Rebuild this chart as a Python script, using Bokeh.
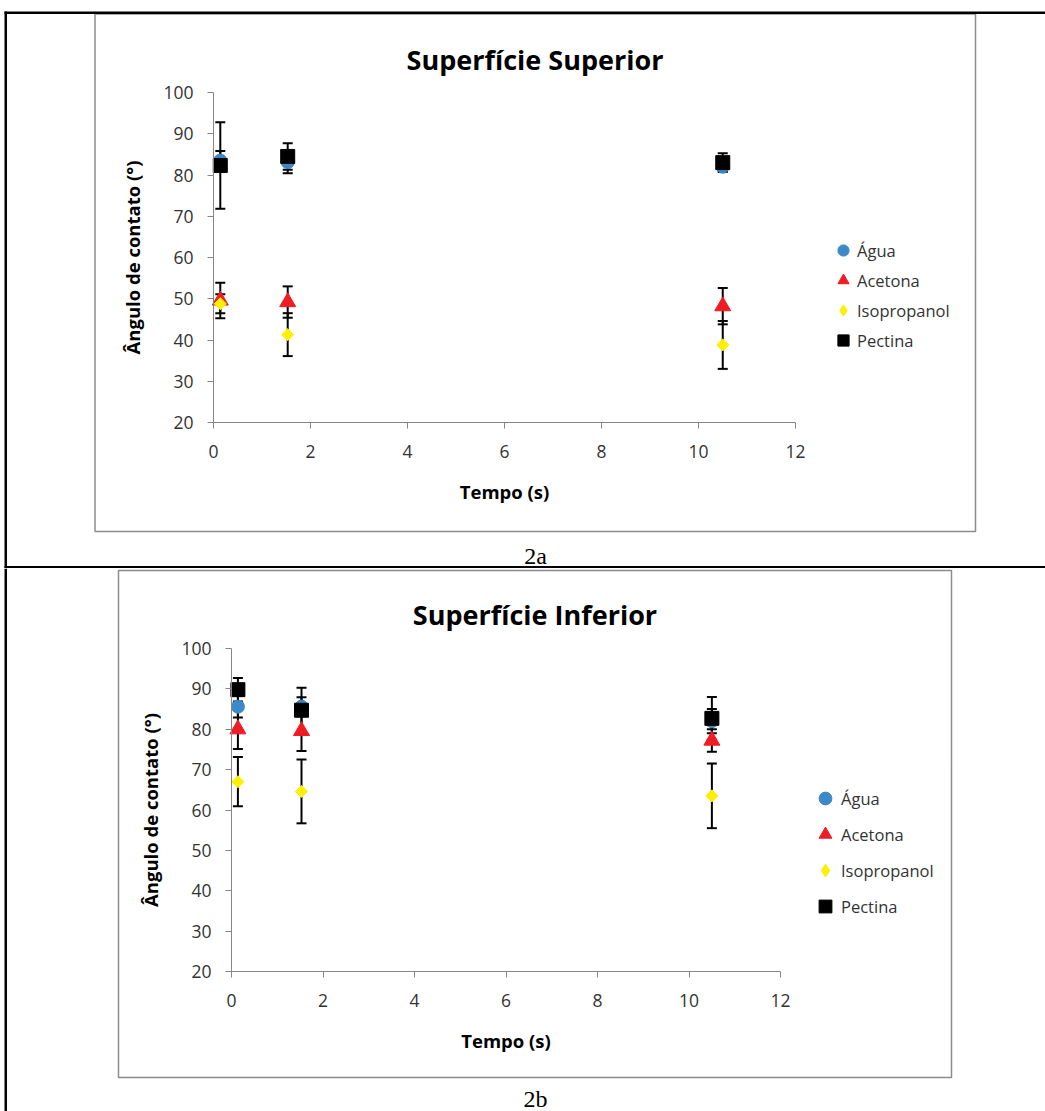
import math
from bokeh.plotting import figure
from bokeh.models import (Range1d, FixedTicker, Whisker, TeeHead, ColumnDataSource,
                          Legend, LegendItem, Label, BoxAnnotation, LinearAxis)
from bokeh.layouts import column
from bokeh.embed import file_html
from bokeh.resources import INLINE

# ---------------- data ----------------
tempo = [0.14, 1.53, 10.5]
series = ["Água", "Acetona", "Isopropanol", "Pectina"]
x_ticks = [0, 2, 4, 6, 8, 10, 12]
y_ticks = [20, 30, 40, 50, 60, 70, 80, 90, 100]

# Superfície Superior (2a)
sup_agua = [83.5, 83.1, 82.0]
sup_agua_err = [2.3, 2.7, 1.0]
sup_acetona = [49.6, 49.2, 48.2]
sup_acetona_err = [4.3, 3.8, 4.4]
sup_isoprop = [48.8, 41.3, 38.8]
sup_isoprop_err = [2.3, 5.2, 5.8]
sup_pectina = [82.3, 84.5, 83.0]
sup_pectina_err = [10.5, 3.2, 2.3]

# Superfície Inferior (2b)
inf_agua = [85.6, 85.6, 82.0]
inf_agua_err = [2.7, 2.3, 3.0]
inf_acetona = [80.0, 79.6, 77.2]
inf_acetona_err = [4.9, 5.0, 2.8]
inf_isoprop = [67.0, 64.6, 63.5]
inf_isoprop_err = [6.1, 7.9, 8.0]
inf_pectina = [89.8, 84.7, 82.7]
inf_pectina_err = [2.9, 5.6, 5.3]

# ---------------- styles ----------------
COLORS = ["#3B89C9", "#EE1C25", "#FFEF00", "#000000"]
MARKERS = ["circle", "triangle", "square", "square"]
ANGLES = [0, 0, math.pi / 4, 0]
SIZES = [13, 16, 8.5, 14]
FONT = "Open Sans"
AXIS_GRAY = "#868686"
TEXT = "#333333"
W = 1045
X0, X1, Y0, Y1 = 0, 12, 20, 100


def box(p, l, r, t, b, fill=None, line=None, lw=1.5):
    p.add_layout(BoxAnnotation(left=l, right=r, top=t, bottom=b,
                               left_units="canvas", right_units="canvas",
                               top_units="canvas", bottom_units="canvas",
                               fill_color=fill, fill_alpha=1.0 if fill else 0.0,
                               line_color=line, line_width=lw, line_alpha=1.0 if line else 0.0,
                               level="annotation"))


def label(p, x, y, text, size, bold=False, font=FONT, baseline="alphabetic", color="#000000"):
    p.add_layout(Label(x=x, y=y, x_units="canvas", y_units="canvas", text=text,
                       text_font=font, text_font_size=f"{size}px",
                       text_font_style="bold" if bold else "normal",
                       text_align="center", text_baseline=baseline, text_color=color))


def make_chart(height, area, values, errors, title, title_xy, caption, caption_xy,
               frame_box, legend_loc, glyph_box, legend_standoff, legend_font):
    # area = canvas pixel positions of (x=X0, x=X1, y=Y1, y=Y0)
    ax0, ax1, ay1, ay0 = area
    sx = (ax1 - ax0) / (X1 - X0)
    sy = (ay0 - ay1) / (Y1 - Y0)
    xr = Range1d(X0 - ax0 / sx, X1 + (W - ax1) / sx)
    yr = Range1d(Y0 - (height - ay0) / sy, Y1 + ay1 / sy)
    p = figure(width=W, height=height, x_range=xr, y_range=yr,
               output_backend="svg", toolbar_location=None,
               x_axis_location=None, y_axis_location=None,
               min_border=0)
    p.extra_y_ranges = {"legend_only": Range1d(-10000, -9999)}
    p.outline_line_color = None
    p.xgrid.visible = False
    p.ygrid.visible = False
    p.background_fill_color = "white"
    p.border_fill_color = "white"

    xa = LinearAxis(fixed_location=Y0, bounds=(X0, X1), axis_label="Tempo (s)")
    ya = LinearAxis(fixed_location=X0, bounds=(Y0, Y1), axis_label="Ângulo de contato (°)")
    for ax, ticks in ((xa, x_ticks), (ya, y_ticks)):
        ax.ticker = FixedTicker(ticks=ticks)
        ax.axis_line_color = AXIS_GRAY
        ax.major_tick_line_color = AXIS_GRAY
        ax.major_tick_out = 6
        ax.major_tick_in = 0
        ax.minor_tick_line_color = None
        ax.major_label_text_font = FONT
        ax.major_label_text_font_size = "17.5px"
        ax.major_label_text_color = TEXT
        ax.axis_label_text_font = FONT
        ax.axis_label_text_font_style = "bold"
        ax.axis_label_text_font_size = "18.5px"
        ax.axis_label_text_color = "#000000"
    xa.major_label_standoff = 16
    xa.axis_label_standoff = 18
    ya.major_label_standoff = 14
    ya.axis_label_standoff = 15
    p.add_layout(xa, "below")
    p.add_layout(ya, "left")

    items = []
    for i, name in enumerate(series):
        vals = values[i]
        errs = errors[i]
        src = ColumnDataSource(dict(x=tempo, y=vals,
                                    up=[v + e for v, e in zip(vals, errs)],
                                    lo=[v - e for v, e in zip(vals, errs)]))
        w = Whisker(base="x", upper="up", lower="lo", source=src, dimension="height",
                    line_color="black", line_width=2,
                    upper_head=TeeHead(size=10, line_width=2, line_color="black"),
                    lower_head=TeeHead(size=10, line_width=2, line_color="black"))
        w.level = "underlay"
        p.add_layout(w)
    for i, name in enumerate(series):
        src = ColumnDataSource(dict(x=tempo, y=values[i]))
        r = p.scatter("x", "y", source=src, marker=MARKERS[i], size=SIZES[i],
                      angle=ANGLES[i], fill_color=COLORS[i], line_color=COLORS[i], line_width=1)
        if ANGLES[i] != 0:
            # legend swatch: same series, drawn as a diamond on an off-canvas range
            r = p.scatter("x", "y", source=src, marker="diamond", size=SIZES[i],
                          fill_color=COLORS[i], line_color=COLORS[i], line_width=1,
                          y_range_name="legend_only")
        items.append(LegendItem(label=name, renderers=[r]))

    leg = Legend(items=items, location=legend_loc, orientation="vertical",
                 glyph_width=glyph_box, glyph_height=glyph_box, label_height=glyph_box,
                 spacing=legend_font[1], padding=0, margin=0,
                 label_standoff=legend_standoff,
                 label_text_font=FONT, label_text_font_size=f"{legend_font[0]}px",
                 label_text_color=TEXT, border_line_color=None,
                 background_fill_alpha=0.0)
    p.add_layout(leg)

    fl, fr, ft, fb = frame_box
    box(p, fl, fr, ft, fb, line="#8C8C8C", lw=1.5)
    label(p, title_xy[0], title_xy[1], title, 27, bold=True)
    label(p, caption_xy[0], caption_xy[1], caption, 24, font="Liberation Serif")
    return p


top_fig = make_chart(
    568, (213, 795, 92, 422),
    [sup_agua, sup_acetona, sup_isoprop, sup_pectina],
    [sup_agua_err, sup_acetona_err, sup_isoprop_err, sup_pectina_err],
    "Superfície Superior", (534.5, 59), "2a", (535, 555),
    (94.5, 975, 13.5, 531), (829, 214), 28, -13, (16.5, 2))
# table lines (top part)
box(top_fig, 4, W, 11, 13.5, fill="#000000")
box(top_fig, 4, 6.5, 11, 568, fill="#000000")
box(top_fig, 4, W, 565.5, 568, fill="#000000")

bot_fig = make_chart(
    543, (231, 780, 80, 403),
    [inf_agua, inf_acetona, inf_isoprop, inf_pectina],
    [inf_agua_err, inf_acetona_err, inf_isoprop_err, inf_pectina_err],
    "Superfície Inferior", (534.5, 46), "2b", (535, 530),
    (118, 951, 2, 509), (809, 189), 32, -12, (16.5, 4))
box(bot_fig, 4, 6.5, 0, 543, fill="#000000")

layout = column(top_fig, bot_fig, spacing=0)
open("out.html", "w").write(file_html(layout, INLINE))
